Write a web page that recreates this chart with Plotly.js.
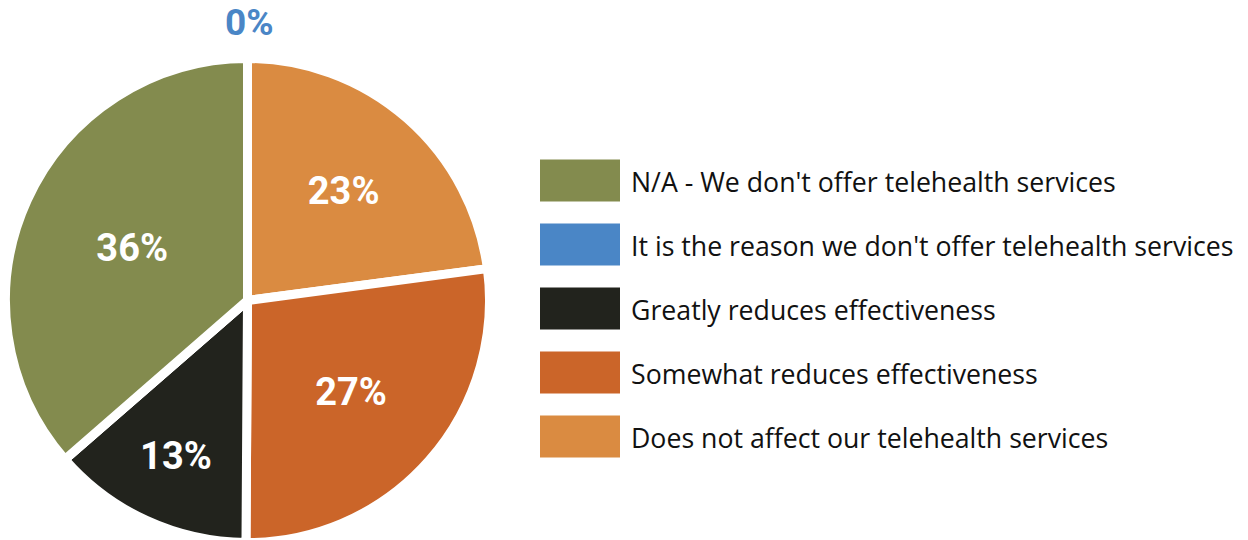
<!DOCTYPE html>
<html>
<head>
<meta charset="utf-8">
<script src="https://cdn.plot.ly/plotly-3.0.1.min.js"></script>
<style>
  html, body { margin: 0; padding: 0; overflow: hidden; background: #fff; }
  #chart { width: 1248px; height: 548px; }
</style>
</head>
<body>
<div id="chart"></div>
<script>
// ---- data (legend order) ----
const categories = [
  "N/A - We don't offer telehealth services",
  "It is the reason we don't offer telehealth services",
  "Greatly reduces effectiveness",
  "Somewhat reduces effectiveness",
  "Does not affect our telehealth services"
];
// slice sizes (percent of respondents)
const shares = [36.4, 0, 13.5, 27.2, 22.9];
// percentages printed on the chart
const labelPercents = [36, 0, 13, 27, 23];
const colors = ["#838B4E", "#4A86C6", "#22231D", "#CB6529", "#DA8B41"];

// ---- layout helpers (pixels) ----
const W = 1248, H = 548;
const pieCx = 247.5, pieCy = 300.5, pieR = 242;
const legX0 = 540, legBoxW = 80, legBoxH = 42, legY0 = 180.5, legStep = 64, legTextX = 629;
const px = x => x / W;
const py = y => (H - y) / H;

// slices go clockwise from 12 o'clock in reverse legend order
const rev = a => a.slice().reverse();
const pie = {
  type: 'pie',
  labels: rev(categories),
  values: rev(shares),
  text: rev(labelPercents).map((v, i) => rev(shares)[i] > 0 ? v + '%' : ''),
  textinfo: 'text',
  textposition: 'inside',
  insidetextorientation: 'horizontal',
  sort: false,
  direction: 'clockwise',
  rotation: 0,
  marker: { colors: rev(colors), line: { color: '#ffffff', width: 9 } },
  insidetextfont: { family: 'Roboto', size: 38, color: '#ffffff', weight: 'bold' },
  hoverinfo: 'label+text',
  showlegend: false,
  domain: { x: [px(pieCx - pieR), px(pieCx + pieR)], y: [py(pieCy + pieR), py(pieCy - pieR)] }
};

const shapes = [];
const annotations = [];
categories.forEach((c, i) => {
  const yc = legY0 + i * legStep;
  shapes.push({
    type: 'rect', xref: 'paper', yref: 'paper',
    x0: px(legX0), x1: px(legX0 + legBoxW),
    y0: py(yc + legBoxH / 2), y1: py(yc - legBoxH / 2),
    fillcolor: colors[i], line: { width: 0 }
  });
  annotations.push({
    xref: 'paper', yref: 'paper', x: px(legTextX), y: py(yc + 1),
    xanchor: 'left', yanchor: 'middle', showarrow: false,
    text: c, font: { family: 'Open Sans', size: 26.7, color: '#111111' }
  });
});
// zero-value slice label above the pie
annotations.push({
  xref: 'paper', yref: 'paper', x: px(pieCx + 2), y: py(23),
  xanchor: 'center', yanchor: 'middle', showarrow: false,
  text: labelPercents[1] + '%',
  font: { family: 'Roboto', size: 37, color: colors[1], weight: 'bold' }
});

const layout = {
  width: W, height: H,
  margin: { l: 0, r: 0, t: 0, b: 0 },
  paper_bgcolor: '#ffffff',
  showlegend: false,
  shapes: shapes,
  annotations: annotations
};

Plotly.newPlot('chart', [pie], layout, { displayModeBar: false, staticPlot: true });
</script>
</body>
</html>
